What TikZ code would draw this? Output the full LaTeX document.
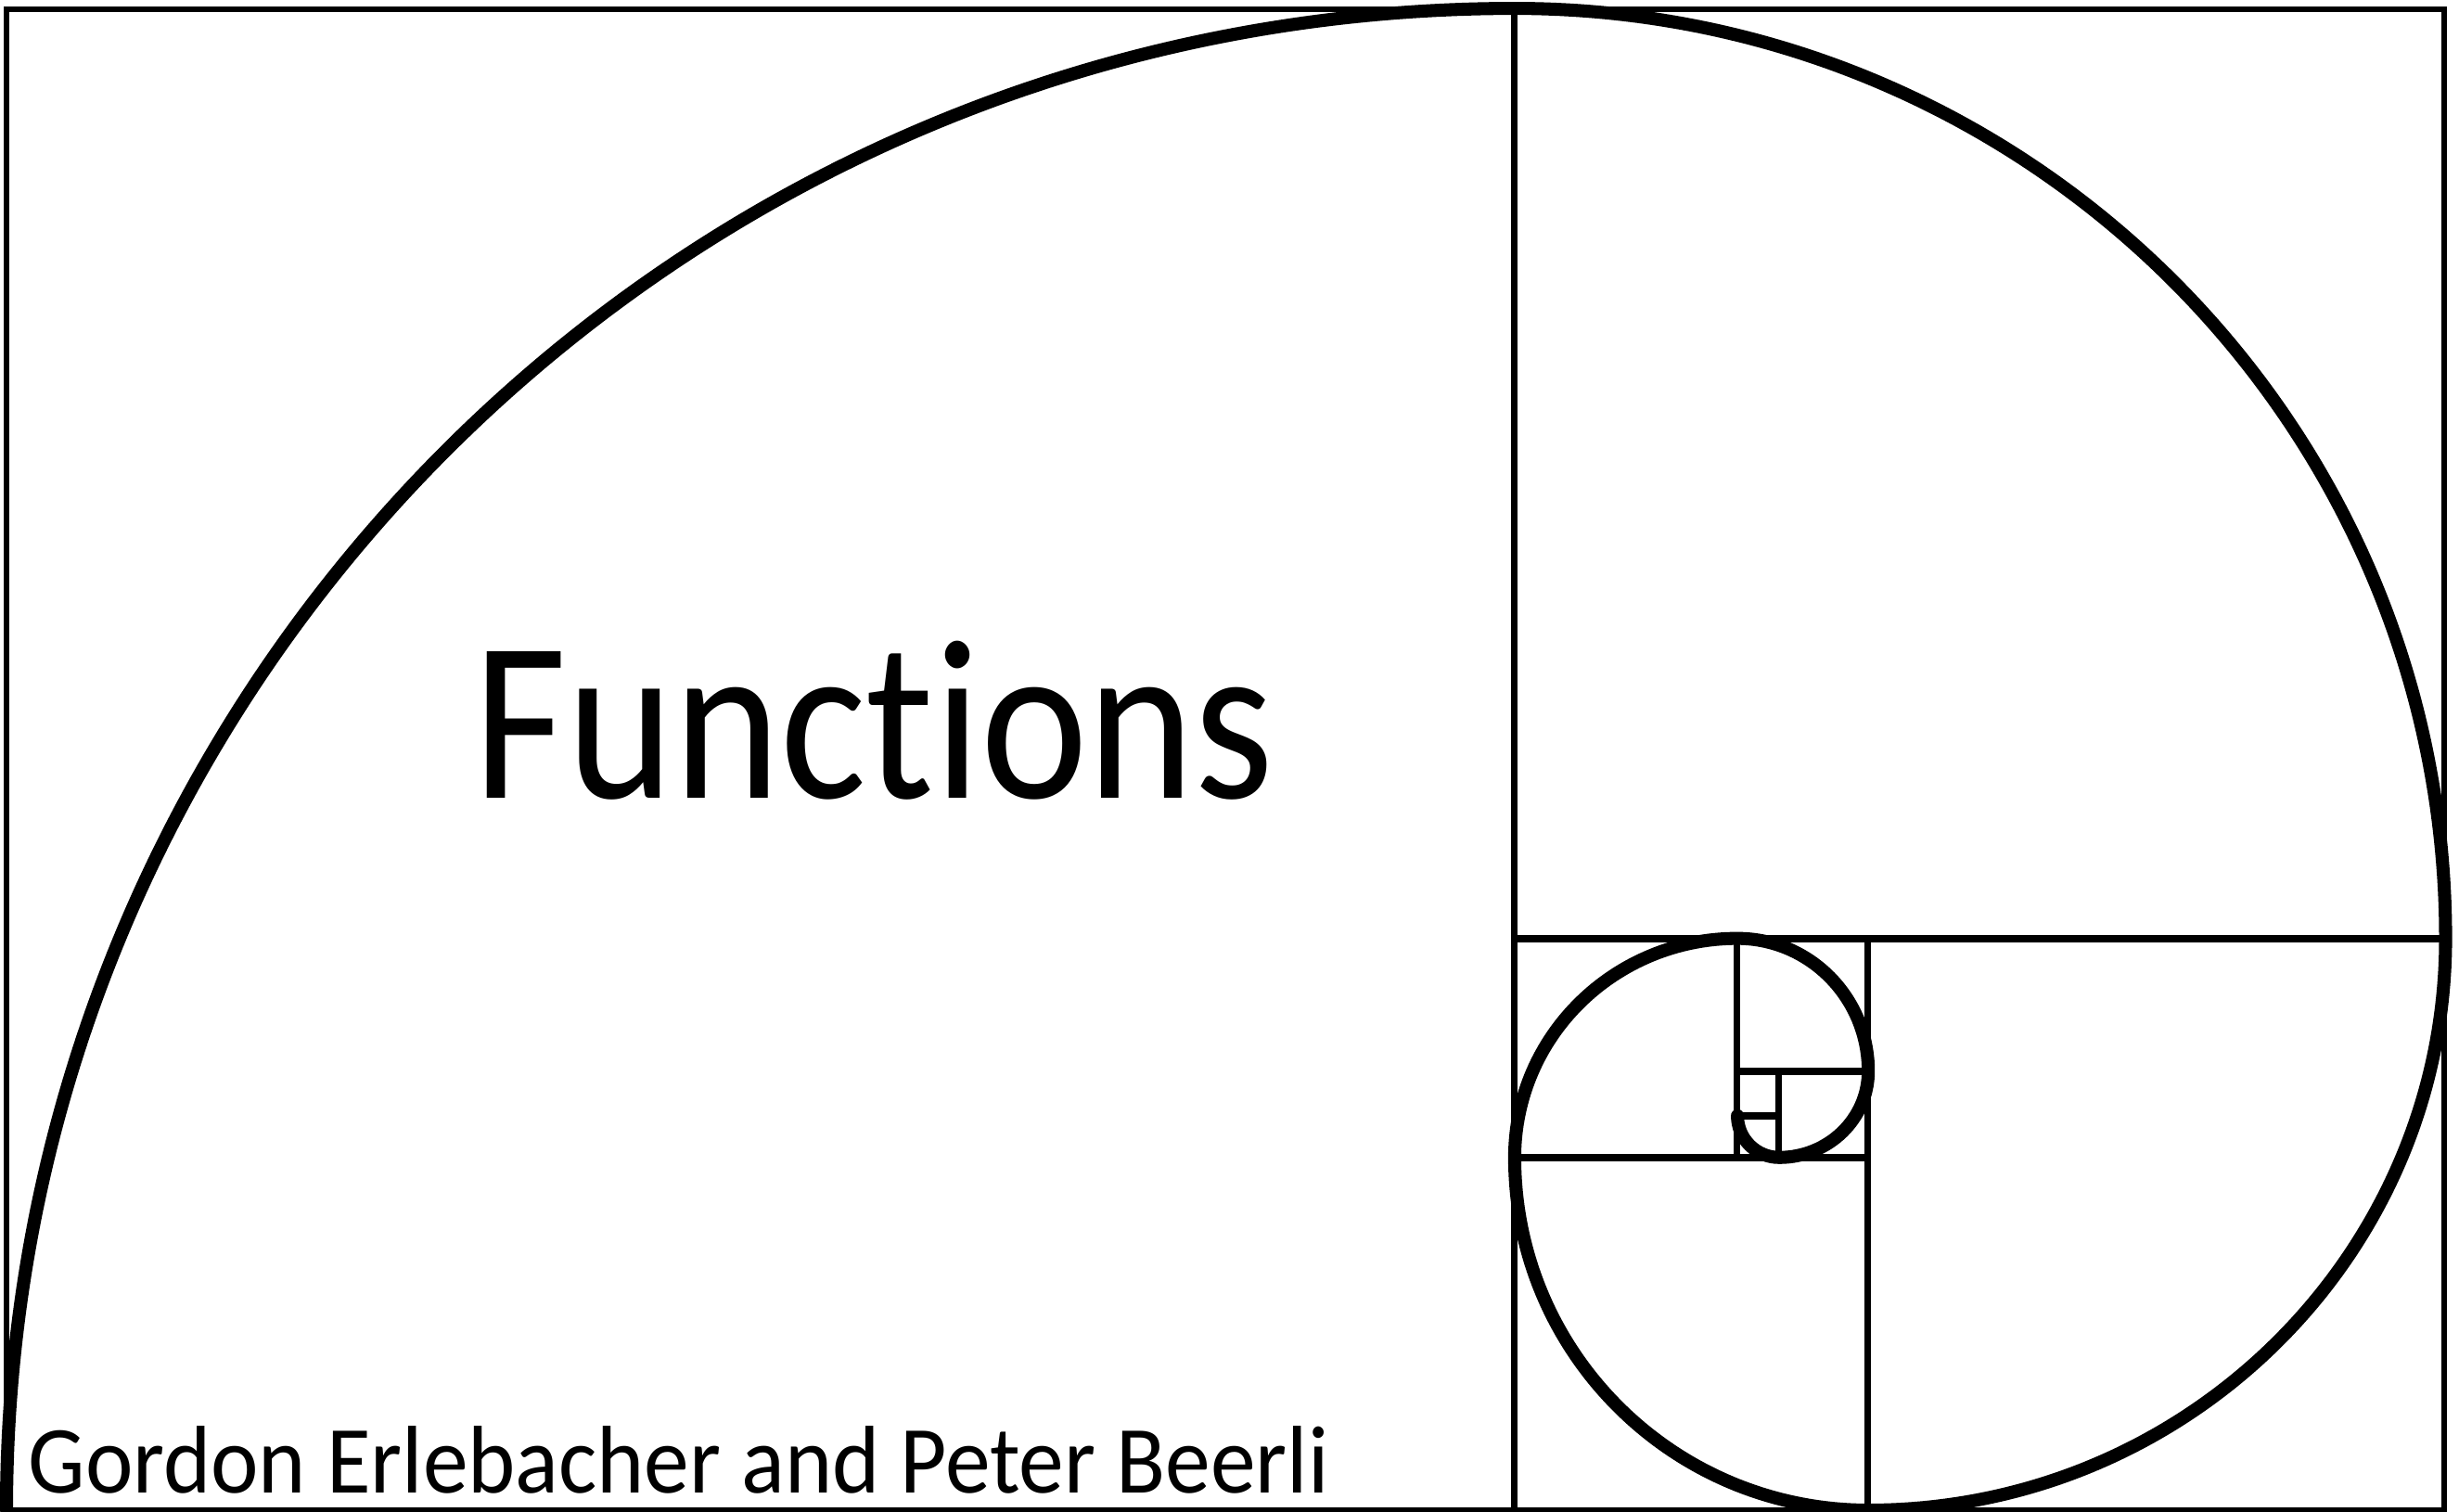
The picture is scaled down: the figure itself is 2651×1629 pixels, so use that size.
\documentclass[tikz,border=0pt]{standalone}
\usepackage{fontspec}
\setmainfont{Carlito}[Ligatures=NoCommon]
\usetikzlibrary{positioning}
\tikzset{
  frame/.style={line width=1.8pt},
  split/.style={line width=2pt},
  spiral/.style={line width=4pt, line cap=round},
  title/.style={anchor=base west, inner sep=0pt, xscale=0.89,
                font=\fontsize{70}{80}\selectfont},
  byline/.style={anchor=base west, inner sep=0pt, xscale=0.94,
                 font=\fontsize{29.5}{34}\selectfont},
}

\begin{document}
\begin{tikzpicture}[x=0.01cm, y=0.01cm]
  \useasboundingbox (0,0) rectangle (2651,1629);
  % outer golden rectangle
  \draw[frame] (7,1) rectangle (2635,1619);
  % square divisions
  \draw[split] (1632,1) -- (1632,1619);
  \draw[split] (1632,617) -- (2635,617);
  \draw[split] (2013,1) -- (2013,617);
  \draw[split] (1632,381) -- (2013,381);
  \draw[split] (1872,381) -- (1872,617);
  \draw[split] (1872,474) -- (2013,474);
  \draw[split] (1917,381) -- (1917,474);
  \draw[split] (1872,426) -- (1917,426);
  % spiral, one quarter arc per square
  \draw[spiral] (7,1)
    arc[start angle=180, end angle=90, x radius=16.25cm, y radius=16.18cm]
    arc[start angle=90, end angle=0, x radius=10.03cm, y radius=10.02cm]
    arc[start angle=0, end angle=-90, x radius=6.22cm, y radius=6.16cm]
    arc[start angle=-90, end angle=-180, x radius=3.81cm, y radius=3.80cm]
    arc[start angle=180, end angle=90, x radius=2.40cm, y radius=2.36cm]
    arc[start angle=90, end angle=0, x radius=1.41cm, y radius=1.43cm]
    arc[start angle=0, end angle=-90, x radius=0.96cm, y radius=0.93cm]
    arc[start angle=-90, end angle=-180, x radius=0.45cm, y radius=0.45cm];
  % texts
  \node[title] (title) at (510,769) {Functions};
  \node[byline] (authors) at (30,20) {Gordon Erlebacher and Peter Beerli};
\end{tikzpicture}
\end{document}
